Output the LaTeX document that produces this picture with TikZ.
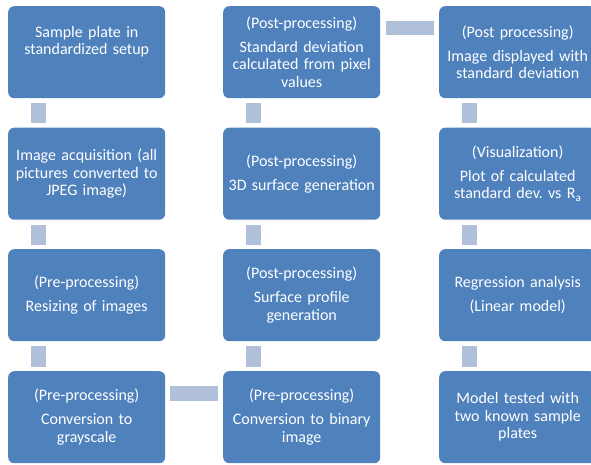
\documentclass[tikz,border=0pt]{standalone}
\usepackage{fontspec}
\setmainfont{Carlito}
\usetikzlibrary{calc}
\definecolor{boxblue}{HTML}{4F81BD}
\definecolor{connblue}{HTML}{B0C0DB}
\tikzset{
  procbox/.style={draw=none, fill=boxblue, rounded corners=6pt, minimum width=157pt, minimum height=92pt,
    inner sep=0pt, text width=152pt, align=center, text=white, anchor=north west,
    font=\fontsize{16}{17.5}\selectfont},
  conn/.style={fill=connblue, draw=none}
}
\newcommand{\pgap}{\\[6.5pt]}
\frenchspacing
\begin{document}
\begin{tikzpicture}[x=1pt,y=1pt]
\useasboundingbox (0,0) rectangle (591,-465);
% column 1
\node[procbox] (a1) at (8,-6) {Sample plate in\\standardized setup\pgap\mbox{}};
\node[procbox] (a2) at (8,-127.5) {Image acquisition (all\\pictures converted to\\JPEG image)};
\node[procbox] (a3) at (8,-249) {(Pre-processing)\pgap Resizing of images};
\node[procbox] (a4) at (8,-371) {(Pre-processing)\pgap Conversion to\\grayscale};
% column 2
\node[procbox] (b4) at (223,-371) {(Pre-processing)\pgap Conversion to binary\\image};
\node[procbox] (b3) at (223,-249) {(Post-processing)\pgap Surface profile\\generation};
\node[procbox] (b2) at (223,-127.5) {(Post-processing)\pgap 3D surface generation};
\node[procbox] (b1) at (223,-6) {(Post-processing)\pgap Standard deviation\\calculated from pixel\\values};
% column 3
\node[procbox] (c1) at (439,-6) {(Post processing)\pgap Image displayed with\\standard deviation};
\node[procbox] (c2) at (439,-127.5) {(Visualization)\pgap Plot of calculated\\standard dev. vs R\textsubscript{a}};
\node[procbox] (c3) at (439,-249) {Regression analysis\pgap (Linear model)};
\node[procbox] (c4) at (439,-371) {Model tested with\\two known sample\\plates};
% vertical connectors
\foreach \u/\v in {a1/a2,a2/a3,a3/a4,b1/b2,b2/b3,b3/b4,c1/c2,c2/c3,c3/c4}{
  \fill[conn] ($(\u.south west)+(23,-5)$) rectangle ($(\v.north west)+(38,4.5)$);
}
% horizontal connectors
\fill[conn] ($(a4.north east)+(5,-15)$) rectangle ($(b4.north west)+(-5,-30)$);
\fill[conn] ($(b1.north east)+(6,-15)$) rectangle ($(c1.north west)+(-5,-29)$);
\end{tikzpicture}
\end{document}
